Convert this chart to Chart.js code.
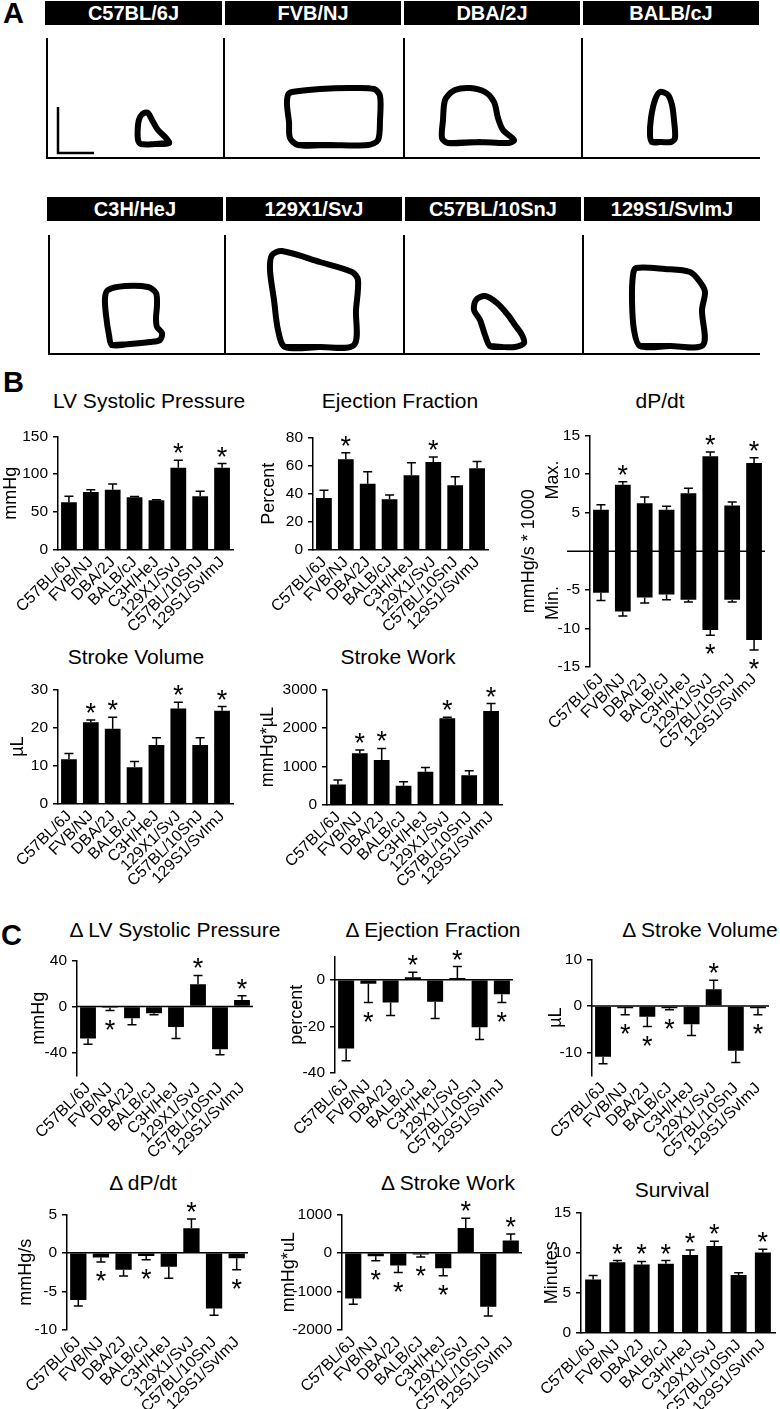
<!DOCTYPE html>
<html lang="en">
<head>
<meta charset="UTF-8">
<title>Strain hemodynamics</title>
<script src="https://cdn.jsdelivr.net/npm/chart.js"></script>
<style>
  body { margin: 0; background: #fff; font-family: Arial, "Liberation Sans", sans-serif; color: #000; }
  #fig { position: relative; width: 780px; height: 1409px; overflow: hidden; }
  .box { position: absolute; }
  .hdr { position: absolute; height: 24px; line-height: 25px; background: #000; color: #fff;
         font-weight: bold; font-size: 20px; text-align: center; white-space: nowrap; }
  .vline { position: absolute; width: 2px; background: #000; }
  .hline { position: absolute; height: 2px; background: #000; }
  .ttl { position: absolute; font-size: 21px; line-height: 20px; white-space: nowrap; transform: translateX(-50%); }
  .letter { position: absolute; font-size: 29px; line-height: 28px; font-weight: bold; }
  .side { position: absolute; font-size: 18px; line-height: 18px; white-space: nowrap;
          transform: translate(-50%, -50%) rotate(-90deg); }
</style>
</head>
<body>
<div id="fig"></div>
<script>
// ---- data ----
const strains = ['C57BL/6J', 'FVB/NJ', 'DBA/2J', 'BALB/cJ', 'C3H/HeJ', '129X1/SvJ', 'C57BL/10SnJ', '129S1/SvImJ'];

// panel A: pressure-volume loops, traced in arbitrary units (volume, pressure)
const loopC57BL6 = [[110,14],[124,15],[121,20],[113,28],[107,38],[103,45],[99,45],[95,41],[93,33],[93,18],[96,14]];
const loopFVB    = [[106,13],[74,13],[66,20],[65,36],[63,53],[64,63],[68,66],[96,69],[126,70],[150,69],[156,62],[156,38],[154,18],[144,13]];
const loopDBA    = [[77,16],[45,15],[39,20],[40,38],[41,53],[43,60],[52,68],[67,70],[82,66],[91,56],[95,40],[100,28],[111,18],[105,15]];
const loopBALB   = [[80,16],[71,16],[69,23],[70,40],[74,58],[79,66],[87,63],[91,53],[93,38],[94,20],[90,16]];
const loopC3H    = [[82,10],[64,9],[61,19],[58,39],[57,56],[60,64],[77,68],[100,67],[108,61],[109,49],[108,36],[109,27],[114,21],[112,14],[102,12]];
const loop129X1  = [[95,7],[60,7],[53,24],[49,54],[45,84],[47,99],[57,103],[95,92],[127,82],[133,74],[131,44],[129,9]];
const loopC57BL10 = [[98,7],[86,8],[81,19],[76,34],[70,44],[72,54],[81,58],[93,51],[104,39],[111,29],[118,19],[120,11],[111,7]];
const loop129S1  = [[87,8],[57,8],[51,24],[49,54],[50,79],[53,86],[82,85],[107,82],[117,72],[122,62],[119,44],[120,9]];
const scaleBar   = [[13,51],[13,5],[49,5]];
const loops = [loopC57BL6, loopFVB, loopDBA, loopBALB, loopC3H, loop129X1, loopC57BL10, loop129S1];

// panel B
const lvspMean = [63, 76.5, 79.5, 69.5, 65.5, 108.5, 71, 108.5];
const lvspSem  = [8, 3, 7.5, 1.2, 0.8, 10, 6.5, 5.5];
const lvspSig  = [0, 0, 0, 0, 0, 1, 0, 1];
const lvspTicks = [0, 50, 100, 150];

const efMean = [37, 64.5, 47, 36, 53, 62.5, 46, 58];
const efSem  = [5.5, 4.5, 8.5, 3, 9, 3.5, 6, 4.8];
const efSig  = [0, 1, 0, 0, 0, 1, 0, 0];
const efTicks = [0, 20, 40, 60, 80];

const dpdtMaxMean = [5.35, 8.6, 6.2, 5.35, 7.5, 12.3, 5.9, 11.4];
const dpdtMaxSem  = [0.65, 0.4, 0.8, 0.45, 0.65, 0.55, 0.45, 0.7];
const dpdtMaxSig  = [0, 1, 0, 0, 0, 1, 0, 1];
const dpdtMinMean = [-5.4, -7.8, -6.0, -5.6, -6.3, -10.2, -6.3, -11.5];
const dpdtMinSem  = [1.0, 0.6, 0.7, 0.7, 0.3, 0.7, 0.3, 1.3];
const dpdtMinSig  = [0, 0, 0, 0, 0, 1, 0, 1];
const dpdtTicks = [-15, -10, -5, 5, 10, 15];

const svMean = [11.7, 21.4, 19.7, 9.6, 15.4, 25, 15.4, 24.4];
const svSem  = [1.5, 0.6, 3, 1.5, 1.9, 1.6, 1.9, 1.1];
const svSig  = [0, 1, 1, 0, 0, 1, 0, 1];
const svTicks = [0, 10, 20, 30];

const swMean = [530, 1340, 1170, 500, 860, 2250, 770, 2440];
const swSem  = [115, 85, 295, 100, 110, 25, 115, 190];
const swSig  = [0, 1, 1, 0, 0, 1, 0, 1];
const swTicks = [0, 1000, 2000, 3000];

// panel C
const dLvspMean = [-27.5, -1, -10, -5.7, -17.6, 19.3, -36.8, 5.7];
const dLvspSem  = [5, 2.4, 5.6, 1.3, 10, 7.6, 4.8, 3.6];
const dLvspSig  = [0, 1, 0, 0, 0, 1, 0, 1];
const dLvspTicks = [-40, 0, 40];

const dEfMean = [-29.5, -1.8, -9.8, 1, -9.5, 0.7, -20.4, -6.3];
const dEfSem  = [5.2, 8, 5.6, 2.2, 7.1, 4.9, 5.3, 3.5];
const dEfSig  = [0, 1, 0, 1, 0, 1, 0, 1];
const dEfTicks = [-40, -20, 0];

const dSvMean = [-10.9, -0.5, -2.3, -0.5, -3.9, 3.6, -9.6, -0.5];
const dSvSem  = [1.5, 1.4, 2.1, 0.3, 2.4, 1.9, 2.5, 1.4];
const dSvSig  = [0, 1, 1, 1, 0, 1, 0, 1];
const dSvTicks = [-10, 0, 10];

const dDpdtMean = [-6.1, -0.6, -2.2, -0.4, -1.8, 3.2, -7.2, -0.7];
const dDpdtSem  = [0.8, 0.6, 0.8, 0.5, 1.5, 1.2, 0.9, 1.5];
const dDpdtSig  = [0, 1, 0, 1, 0, 1, 0, 1];
const dDpdtTicks = [-10, -5, 0, 5];

const dSwMean = [-1180, -85, -330, -45, -400, 645, -1395, 320];
const dSwSem  = [155, 120, 180, 60, 195, 255, 240, 170];
const dSwSig  = [0, 1, 1, 1, 1, 1, 0, 1];
const dSwTicks = [-2000, -1000, 0, 1000];

const survMean = [6.65, 8.8, 8.5, 8.6, 9.7, 10.8, 7.2, 10.0];
const survSem  = [0.5, 0.2, 0.4, 0.4, 0.6, 0.6, 0.3, 0.4];
const survSig  = [0, 1, 1, 1, 1, 1, 0, 1];
const survTicks = [0, 5, 10, 15];

// ---- setup ----
const FONT = 'Arial, "Liberation Sans", sans-serif';
Chart.defaults.font.family = FONT;
Chart.defaults.color = '#000';
Chart.defaults.animation = false;
Chart.defaults.plugins.legend.display = false;
Chart.defaults.plugins.tooltip.enabled = false;

const fig = document.getElementById('fig');

function el(cls, css, text) {
  const d = document.createElement('div');
  d.className = cls;
  d.style.cssText = css;
  if (text !== undefined) d.textContent = text;
  fig.appendChild(d);
  return d;
}

function canvasBox(left, top, w, h) {
  const d = el('box', `left:${left}px;top:${top}px;width:${w}px;height:${h}px`);
  const c = document.createElement('canvas');
  d.appendChild(c);
  return c;
}

// ---- panel A ----
el('letter', 'left:3px;top:-1px', 'A');
const hdrRow1 = [[45, 177], [225, 176], [404, 176], [583, 176]];
const hdrRow2 = [[47, 176], [226, 176], [405, 176], [584, 176]];
hdrRow1.forEach(([x, w], i) => el('hdr', `left:${x}px;top:1px;width:${w}px`, strains[i]));
hdrRow2.forEach(([x, w], i) => el('hdr', `left:${x}px;top:197px;width:${w}px`, strains[i + 4]));

[46, 223, 403, 581].forEach(x => el('vline', `left:${x}px;top:38px;height:121px`));
el('hline', 'left:46px;top:157px;width:714px');
[48, 224, 403, 582].forEach(x => el('vline', `left:${x}px;top:235px;height:120px`));
el('hline', 'left:48px;top:353px;width:712px');

const LOOP_W = 178, LOOP_H = 130;
const loopLeft = [45, 224, 403, 581, 48, 225, 404, 583];
const loopBase = [158, 158, 158, 158, 354, 354, 354, 354];

function lineSet(pts, width, closed, tension) {
  const d = pts.map(([x, y]) => ({ x, y }));
  // wrap past the start so the closing join is smooth
  if (closed) d.push({ x: pts[0][0], y: pts[0][1] }, { x: pts[1][0], y: pts[1][1] });
  return { data: d, showLine: true, borderColor: '#000', borderWidth: width, tension,
           pointRadius: 0, fill: false, clip: false, borderJoinStyle: 'round', borderCapStyle: 'round' };
}

loops.forEach((pts, i) => {
  const sets = [lineSet(pts, 6, true, 0.3)];
  if (i === 0) {
    const sb = lineSet(scaleBar, 2.5, false, 0);
    sb.borderCapStyle = 'butt';
    sb.borderJoinStyle = 'miter';
    sets.push(sb);
  }
  const c = canvasBox(loopLeft[i], loopBase[i] - LOOP_H, LOOP_W, LOOP_H);
  new Chart(c, {
    type: 'scatter',
    data: { datasets: sets },
    options: {
      responsive: true, maintainAspectRatio: false,
      layout: { padding: 0 },
      scales: {
        x: { display: false, min: 0, max: LOOP_W },
        y: { display: false, min: 0, max: LOOP_H }
      }
    }
  });
});

// ---- bar chart helper ----
function errPlugin(sets, zero, zeroExtend) {
  return {
    id: 'errs',
    afterDatasetsDraw(chart) {
      const { ctx, chartArea: a } = chart;
      const y = chart.scales.y;
      ctx.save();
      ctx.strokeStyle = '#000';
      ctx.lineWidth = 1.5;
      if (zero) {
        const y0 = y.getPixelForValue(0);
        ctx.beginPath();
        ctx.moveTo(a.left - zeroExtend, y0);
        ctx.lineTo(a.right, y0);
        ctx.stroke();
      }
      ctx.font = '27px ' + FONT;
      ctx.textAlign = 'center';
      ctx.textBaseline = 'alphabetic';
      ctx.fillStyle = '#000';
      const m = ctx.measureText('*');
      const half = (m.actualBoundingBoxAscent - m.actualBoundingBoxDescent) / 2;
      sets.forEach((s, di) => {
        chart.getDatasetMeta(di).data.forEach((bar, i) => {
          const v = s.mean[i];
          const dir = v < 0 ? -1 : 1;
          const yv = y.getPixelForValue(v);
          const ye = y.getPixelForValue(v + dir * s.sem[i]);
          ctx.beginPath();
          ctx.moveTo(bar.x, yv);
          ctx.lineTo(bar.x, ye);
          ctx.moveTo(bar.x - 4.5, ye);
          ctx.lineTo(bar.x + 4.5, ye);
          ctx.stroke();
          if (s.sig[i]) {
            const cy = dir > 0 ? ye - 12 : ye + 14;
            ctx.fillText('*', bar.x, cy + half);
          }
        });
      });
      ctx.restore();
    }
  };
}

function barChart(p) {
  const PT = 12, H = 100, R = 4;
  const W = p.axisX - p.L;
  const c = canvasBox(p.L, p.top - PT, p.right - p.L + R, p.bottom - p.top + PT + H);
  new Chart(c, {
    type: 'bar',
    data: {
      labels: strains,
      datasets: p.sets.map(s => ({ data: s.mean, backgroundColor: '#000', borderWidth: 0,
                                   barPercentage: p.barPct || 0.72, categoryPercentage: 1 }))
    },
    options: {
      responsive: true, maintainAspectRatio: false,
      layout: { padding: { top: PT, right: R, left: 0, bottom: 0 } },
      scales: {
        x: {
          stacked: true,
          grid: { display: false, drawTicks: false },
          border: { display: !!p.xBorder, color: '#000', width: 1.5 },
          ticks: { autoSkip: false, maxRotation: 45, minRotation: 45, padding: 3, font: { size: 16 }, color: '#000' },
          afterFit: s => { s.height = H; s.paddingLeft = 0; s.paddingRight = 0; }
        },
        y: {
          stacked: true,
          min: p.min, max: p.max,
          afterBuildTicks: s => { s.ticks = p.ticks.map(v => ({ value: v })); },
          grid: { display: true, drawOnChartArea: false, drawTicks: true, tickLength: 5, color: '#000', lineWidth: 1.5 },
          border: { display: true, color: '#000', width: 1.5 },
          ticks: { padding: 5, font: { size: 15.5 }, color: '#000', callback: v => String(v) },
          title: { display: true, text: p.yTitle, font: { size: 18 }, padding: { top: 0, bottom: 0 }, color: '#000' },
          afterFit: s => { s.width = W; }
        }
      }
    },
    plugins: [errPlugin(p.sets, !!p.zero, p.zeroExtend || 0)]
  });
}

function title(cx, cy, text) {
  el('ttl', `left:${cx}px;top:${cy - 10}px`, text);
}

// ---- panel B ----
el('letter', 'left:3px;top:368px', 'B');
title(149, 401, 'LV Systolic Pressure');
title(400, 401, 'Ejection Fraction');
title(660, 401, 'dP/dt');
title(136, 657, 'Stroke Volume');
title(398, 657, 'Stroke Work');

barChart({ L: 0, axisX: 58, right: 233, top: 434, bottom: 550, min: 0, max: 150, ticks: lvspTicks,
           yTitle: 'mmHg', xBorder: true, sets: [{ mean: lvspMean, sem: lvspSem, sig: lvspSig }] });
barChart({ L: 258, axisX: 313, right: 488, top: 435, bottom: 550, min: 0, max: 80, ticks: efTicks,
           yTitle: 'Percent', xBorder: true, sets: [{ mean: efMean, sem: efSem, sig: efSig }] });
barChart({ L: 518, axisX: 590, right: 765, top: 433, bottom: 667, min: -15, max: 15, ticks: dpdtTicks,
           yTitle: 'mmHg/s * 1000', zero: true, zeroExtend: 23,
           sets: [{ mean: dpdtMaxMean, sem: dpdtMaxSem, sig: dpdtMaxSig },
                  { mean: dpdtMinMean, sem: dpdtMinSem, sig: dpdtMinSig }] });
el('side', 'left:552px;top:480px', 'Max.');
el('side', 'left:552px;top:603px', 'Min.');
barChart({ L: 7, axisX: 58, right: 233, top: 687, bottom: 804, min: 0, max: 30, ticks: svTicks,
           yTitle: 'µL', xBorder: true, sets: [{ mean: svMean, sem: svSem, sig: svSig }] });
barChart({ L: 257, axisX: 327, right: 502, top: 687, bottom: 805, min: 0, max: 3000, ticks: swTicks,
           yTitle: 'mmHg*µL', xBorder: true, sets: [{ mean: swMean, sem: swSem, sig: swSig }] });

// ---- panel C ----
el('letter', 'left:1px;top:921px', 'C');
title(175, 930, 'Δ LV Systolic Pressure');
title(433, 930, 'Δ Ejection Fraction');
title(700, 930, 'Δ Stroke Volume');
title(143, 1183, 'Δ dP/dt');
title(448, 1183, 'Δ Stroke Work');
title(672, 1190, 'Survival');

barChart({ L: 28, axisX: 77, right: 253, top: 958, bottom: 1076, min: -60, max: 40, ticks: dLvspTicks,
           yTitle: 'mmHg', zero: true, sets: [{ mean: dLvspMean, sem: dLvspSem, sig: dLvspSig }] });
barChart({ L: 286, axisX: 335, right: 513, top: 954, bottom: 1073, min: -40, max: 10, ticks: dEfTicks,
           yTitle: 'percent', zero: true, sets: [{ mean: dEfMean, sem: dEfSem, sig: dEfSig }] });
barChart({ L: 545, axisX: 592, right: 769, top: 957, bottom: 1076, min: -15, max: 10, ticks: dSvTicks,
           yTitle: 'µL', zero: true, sets: [{ mean: dSvMean, sem: dSvSem, sig: dSvSig }] });
barChart({ L: 15, axisX: 67, right: 248, top: 1212, bottom: 1330, min: -10, max: 5, ticks: dDpdtTicks,
           yTitle: 'mmHg/s', zero: true, sets: [{ mean: dDpdtMean, sem: dDpdtSem, sig: dDpdtSig }] });
barChart({ L: 278, axisX: 342, right: 522, top: 1212, bottom: 1330, min: -2000, max: 1000, ticks: dSwTicks,
           yTitle: 'mmHg*uL', zero: true, sets: [{ mean: dSwMean, sem: dSwSem, sig: dSwSig }] });
barChart({ L: 541, axisX: 581, right: 775, top: 1210, bottom: 1333, min: 0, max: 15, ticks: survTicks,
           yTitle: 'Minutes', xBorder: true, barPct: 0.66, sets: [{ mean: survMean, sem: survSem, sig: survSig }] });
</script>
</body>
</html>
